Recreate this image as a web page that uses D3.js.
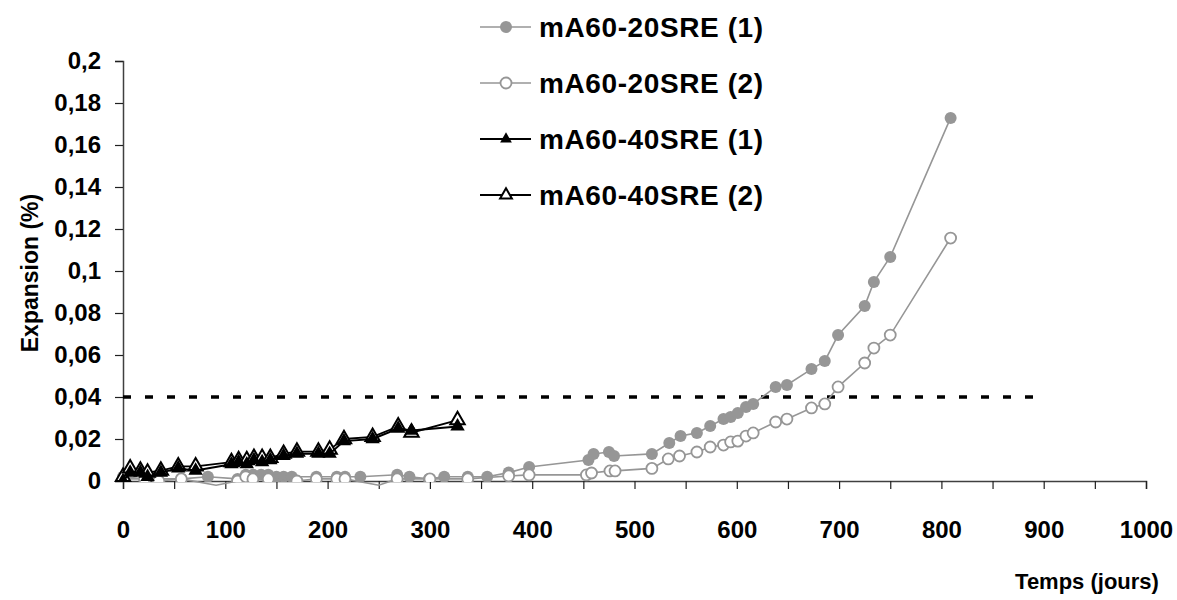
<!DOCTYPE html>
<html><head><meta charset="utf-8">
<script src="https://cdn.jsdelivr.net/npm/d3@7"></script>
<style>body{margin:0;background:#fff}svg{display:block}text{font-family:Arial,"Liberation Sans",sans-serif;font-weight:bold;fill:#000}</style>
</head><body>
<script>
// ---- data ----
const seriesNames = ["mA60-20SRE (1)","mA60-20SRE (2)","mA60-40SRE (1)","mA60-40SRE (2)"];
const days1 = [0,21,57,83,112,120,127,135,142,150,157,165,189,209,217,232,268,280,299,314,337,356,377,397,455,460,475,480,517,534,545,561,574,587,594,601,609,616,638,649,673,686,699,725,734,750,809];
const vals1 = [0.002,0.001,0.001,0.002,0.001,0.003,0.003,0.003,0.003,0.002,0.002,0.002,0.002,0.002,0.002,0.002,0.003,0.002,0.001,0.002,0.002,0.002,0.004,0.0067,0.010,0.0129,0.0138,0.0119,0.0129,0.0181,0.0214,0.0229,0.0262,0.0295,0.0305,0.0324,0.0352,0.0367,0.0448,0.0457,0.0533,0.0571,0.0695,0.0833,0.0948,0.1067,0.1729];
const days2 = [0,21,35,57,91,112,120,127,142,170,189,209,217,250,268,300,337,377,397,453,458,476,481,517,533,544,561,574,587,594,601,609,616,638,649,673,686,699,725,734,750,809];
const vals2 = [0.001,0.001,0,0.001,-0.002,0,0.002,0.001,0.001,0,0.001,0.001,0.001,-0.002,0.001,0.001,0.001,0.0024,0.0029,0.0029,0.0038,0.0048,0.0048,0.006,0.0105,0.0119,0.0138,0.0162,0.0171,0.0186,0.019,0.0214,0.0229,0.0281,0.0295,0.0348,0.0367,0.0448,0.0562,0.0633,0.0695,0.1157];
const days34 = [0,7,17,24,37,54,71,106,113,121,128,136,144,157,170,191,202,216,244,269,282,327];
const vals3 = [0,0.004,0.004,0.002,0.004,0.006,0.005,0.008,0.009,0.008,0.010,0.009,0.010,0.012,0.013,0.013,0.013,0.019,0.020,0.025,0.024,0.026];
const vals4 = [0.002,0.006,0.005,0.004,0.005,0.007,0.007,0.009,0.010,0.010,0.011,0.011,0.011,0.013,0.014,0.014,0.015,0.020,0.021,0.026,0.023,0.029];
const xTicks = [0,100,200,300,400,500,600,700,800,900,1000];
const xMinorTicks = d3.range(0,1001,50);
const yTicks = [0,0.02,0.04,0.06,0.08,0.1,0.12,0.14,0.16,0.18,0.2];
const thresholdValue = 0.04;
const thresholdDays = [0,900];
const xTitle = "Temps (jours)";
const yTitle = "Expansion (%)";

// ---- layout ----
const W = 1177, H = 600;
const L = 123, R = 1146, T = 61, B = 481;
const grey = "#969696";
const svg = d3.select("body").append("svg").attr("width",W).attr("height",H);
const x = d3.scaleLinear().domain([0,1000]).range([L,R]);
const y = d3.scaleLinear().domain([0,0.2]).range([B,T]);
const fmt = v => String(+v.toFixed(2)).replace(".", ",");

svg.append("defs").append("clipPath").attr("id","pc")
  .append("rect").attr("x",L-10).attr("y",T-10).attr("width",R-L+20).attr("height",B-T+11);

// axes
const ax = svg.append("g").attr("transform",`translate(0,${B})`)
  .call(d3.axisBottom(x).tickValues(xMinorTicks).tickSize(8).tickFormat(""));
ax.select(".domain").attr("stroke","#404040").attr("stroke-width",1.5);
ax.selectAll(".tick line").attr("stroke","#202020").attr("stroke-width",1.2);
const axl = svg.append("g").attr("transform",`translate(0,${B})`)
  .call(d3.axisBottom(x).tickValues(xTicks).tickSize(0).tickPadding(40).tickFormat(d=>d));
axl.select(".domain").remove();
axl.selectAll("text").style("font-size","24px").style("font-family","Arial, 'Liberation Sans', sans-serif").style("font-weight","bold");

const ay = svg.append("g").attr("transform",`translate(${L},0)`)
  .call(d3.axisLeft(y).tickValues(yTicks).tickSize(8).tickPadding(14).tickFormat(fmt));
ay.select(".domain").attr("stroke","#404040").attr("stroke-width",1.5);
ay.selectAll(".tick line").attr("stroke","#202020").attr("stroke-width",1.2);
ay.selectAll("text").style("font-size","24px").style("font-family","Arial, 'Liberation Sans', sans-serif").style("font-weight","bold");

svg.append("text").attr("x",1087).attr("y",589).attr("text-anchor","middle").style("font-size","22px").text(xTitle);
svg.append("text").attr("transform","translate(38,273) rotate(-90)").attr("text-anchor","middle").style("font-size","23px").text(yTitle);

// threshold
svg.append("line").attr("x1",x(thresholdDays[0])).attr("x2",x(thresholdDays[1]))
  .attr("y1",y(thresholdValue)).attr("y2",y(thresholdValue))
  .attr("stroke","#000").attr("stroke-width",3.5).attr("stroke-dasharray","8,14");

// series
const s1 = days1.map((d,i)=>[d,vals1[i]]);
const s2 = days2.map((d,i)=>[d,vals2[i]]);
const s3 = days34.map((d,i)=>[d,vals3[i]]);
const s4 = days34.map((d,i)=>[d,vals4[i]]);
const line = d3.line().x(d=>x(d[0])).y(d=>y(d[1]));
const tri = d3.symbol().type(d3.symbolTriangle).size(90);
const triSmall = d3.symbol().type(d3.symbolTriangle).size(60);

function drawLine(data, color, lw){
  svg.append("path").datum(data).attr("d",line).attr("fill","none").attr("stroke",color).attr("stroke-width",lw);
}
function drawMarkers(data, marker){
  const g = svg.append("g").attr("clip-path","url(#pc)");
  marker(g, data.filter(d=>d[1]>=0));
}
const filledCircle = (g,pts)=>g.selectAll("c").data(pts).join("circle").attr("cx",d=>x(d[0])).attr("cy",d=>y(d[1])).attr("r",6).attr("fill",grey);
const openCircle = (g,pts)=>g.selectAll("c").data(pts).join("circle").attr("cx",d=>x(d[0])).attr("cy",d=>y(d[1])).attr("r",5.5).attr("fill","#fff").attr("stroke",grey).attr("stroke-width",1.8);
const filledTri = (g,pts,sym=tri)=>g.selectAll("p").data(pts).join("path").attr("d",sym).attr("transform",d=>`translate(${x(d[0])},${y(d[1])})`).attr("fill","#000");
const openTri = (g,pts,sym=tri)=>g.selectAll("p").data(pts).join("path").attr("d",sym).attr("transform",d=>`translate(${x(d[0])},${y(d[1])})`).attr("fill","#fff").attr("stroke","#000").attr("stroke-width",2);

drawLine(s1, grey, 1.6); drawMarkers(s1, filledCircle);
drawLine(s2, grey, 1.6); drawMarkers(s2, openCircle);
drawLine(s4, "#000", 1.8); drawMarkers(s4, openTri);
drawLine(s3, "#000", 2); drawMarkers(s3, filledTri);

// legend
const legY = [27,83,139,195];
const legStyles = [[grey,filledCircle],[grey,openCircle],["#000",filledTri],["#000",openTri]];
seriesNames.forEach((n,i)=>{
  const g = svg.append("g");
  g.append("line").attr("x1",480).attr("x2",531).attr("y1",legY[i]).attr("y2",legY[i]).attr("stroke",legStyles[i][0]).attr("stroke-width",i>=2?2:1.6);
  const lx = x.invert(506), ly = y.invert(legY[i]);
  if(i<2) legStyles[i][1](g,[[lx,ly]]); else legStyles[i][1](g,[[lx,ly]],triSmall);
  g.append("text").attr("x",539).attr("y",legY[i]).attr("dy","0.36em").style("font-size","28px").style("letter-spacing","0.6px").text(n);
});
</script>
</body></html>
